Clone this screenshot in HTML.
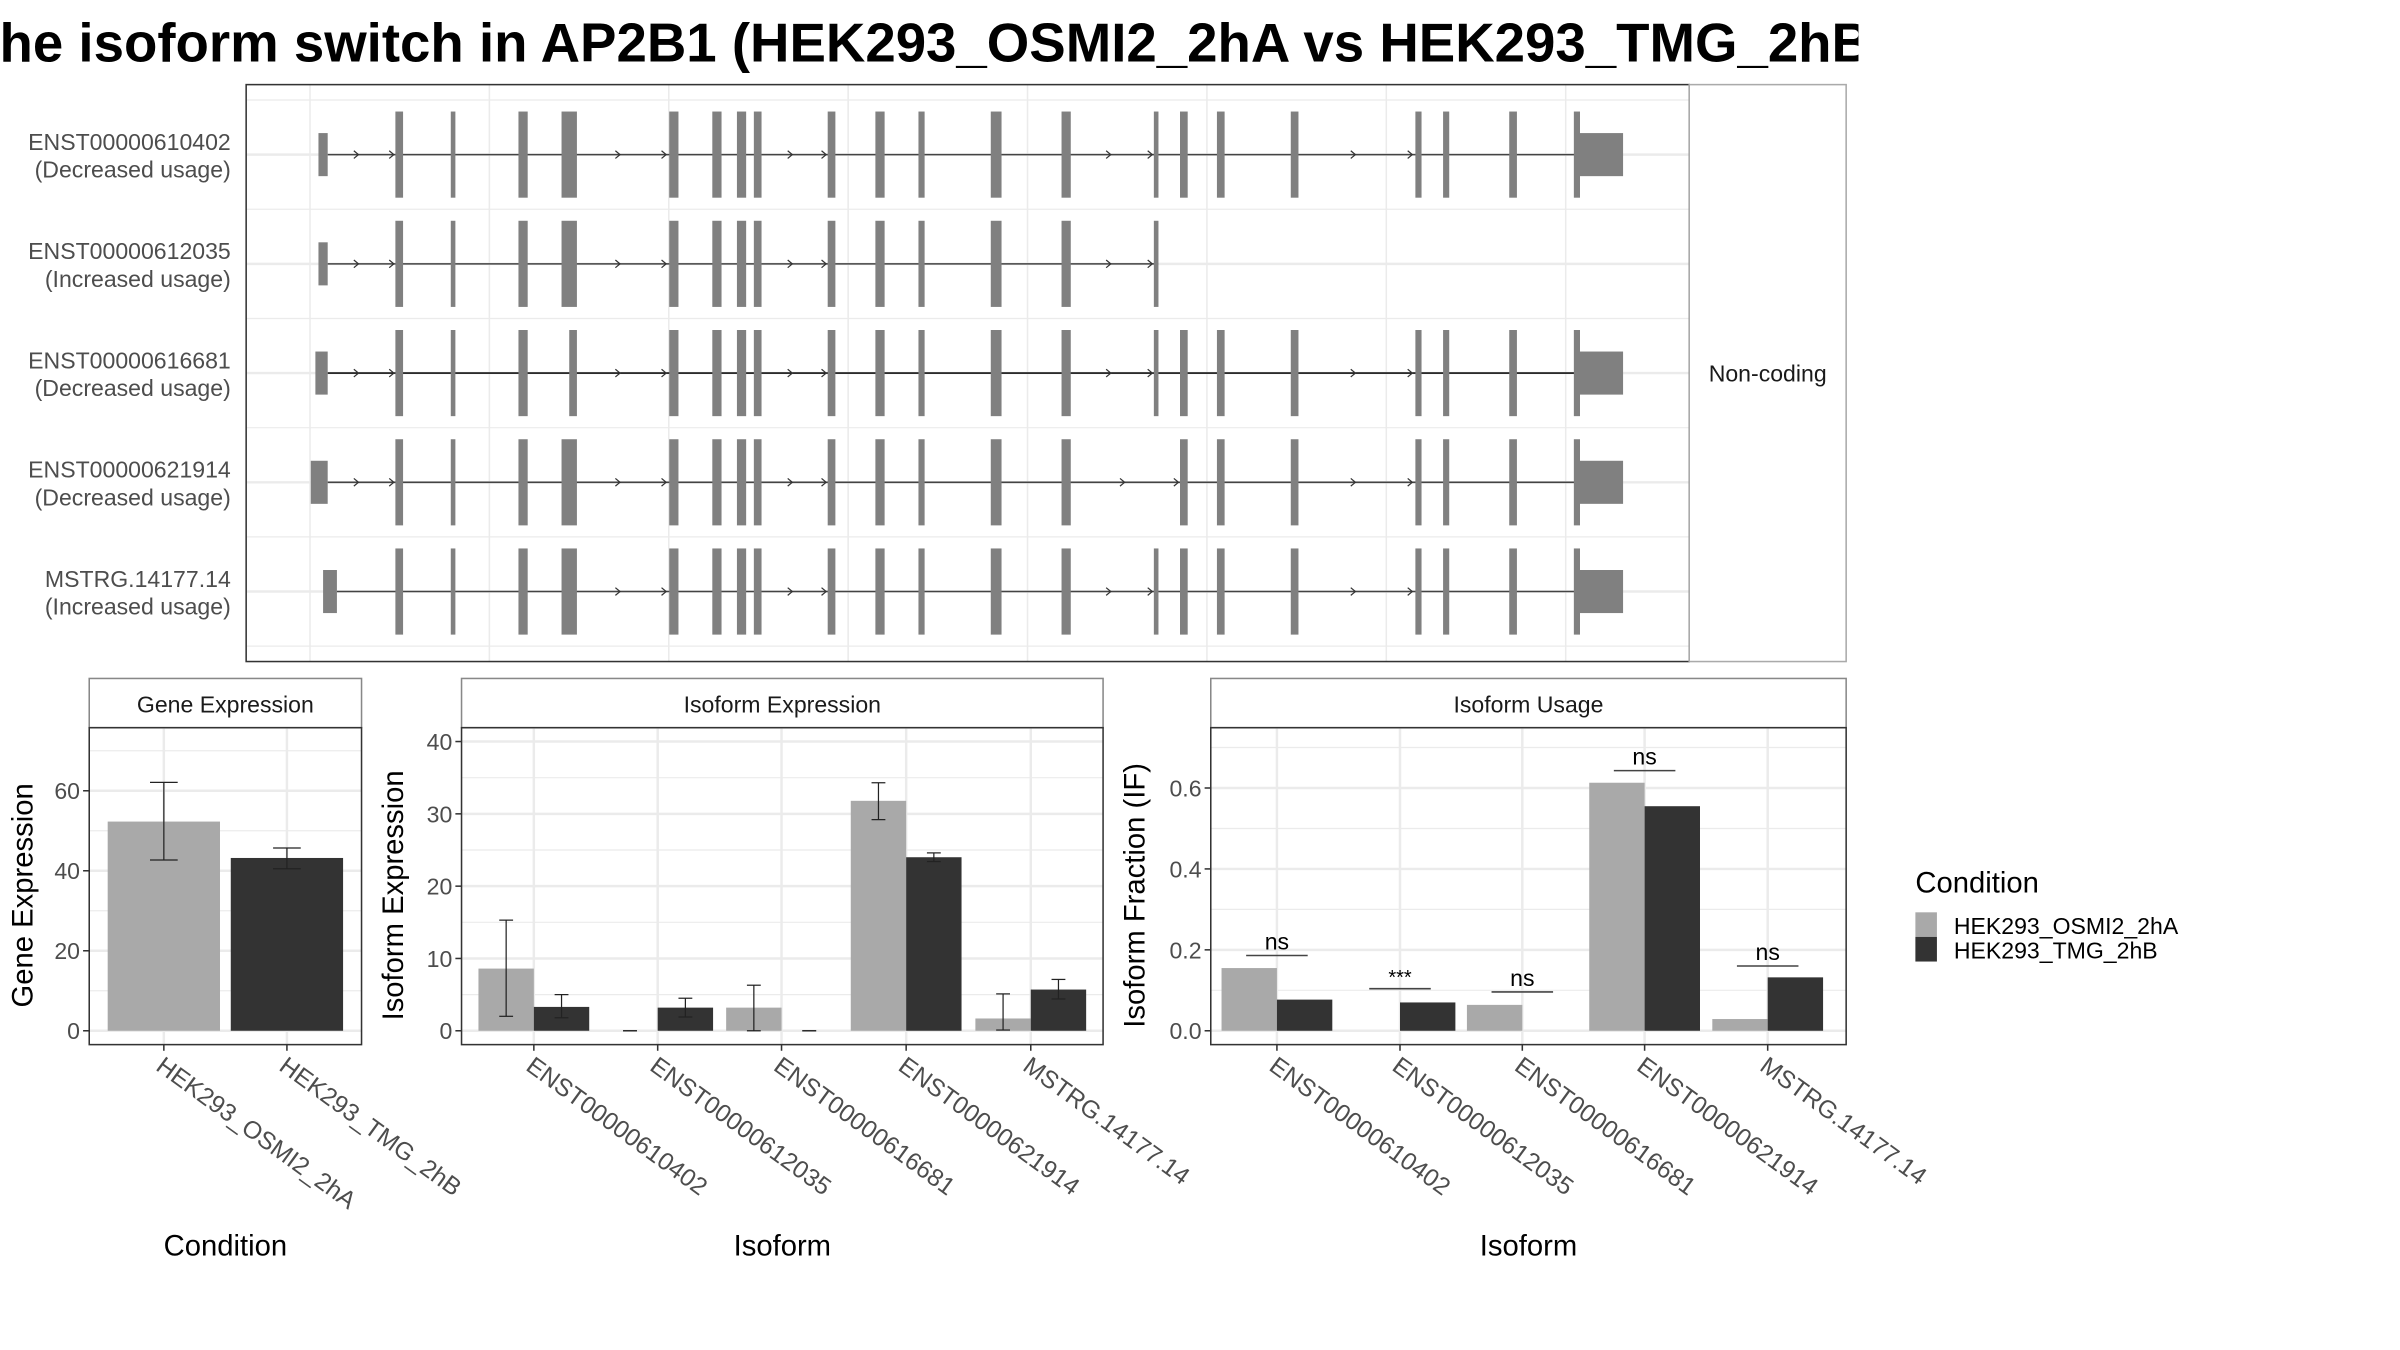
<!DOCTYPE html>
<html><head><meta charset="utf-8"><style>
html,body{margin:0;padding:0;background:#fff;}
svg{display:block;font-family:"Liberation Sans",Arial,sans-serif;}
</style></head><body>
<svg id="chart" width="2400" height="1350" viewBox="0 0 1560 877.5" xmlns="http://www.w3.org/2000/svg">
<defs><clipPath id="titleclip"><rect x="0" y="0" width="1208" height="60"/></clipPath></defs>
<rect x="0" y="0" width="1560" height="877.5" fill="#fff"/>
<text x="-22" y="40" font-size="35.5" font-weight="bold" fill="#000" clip-path="url(#titleclip)">The isoform switch in AP2B1 (HEK293_OSMI2_2hA vs HEK293_TMG_2hB)</text>
<g id="g"></g>
</svg>
<script>
// ---------- data ----------
const transcriptNames = ["ENST00000610402","ENST00000612035","ENST00000616681","ENST00000621914","MSTRG.14177.14"];
const transcriptUsage = ["(Decreased usage)","(Increased usage)","(Decreased usage)","(Decreased usage)","(Increased usage)"];
const cdsExons = [[257,262],[293,296],[337,343],[365,375],[435,441],[463,469],[479,485],[490,495],[538,543],[569,575],[597,601],[644,651],[690,696],[750,753],[767,772],[791,796],[839,844],[920,924],[938,942],[981,986],[1023,1027]];
const utr5 = [[207,213],[207,213],[205,213],[202,213],[210,219]];
const utr3 = [[1027,1055],null,[1027,1055],[1027,1055],[1027,1055]];
const lastExonIdx = [20,13,20,20,20];
const skipExon = [[],[],[],[13],[]];
const narrowExon3 = [370,375];
const arrowsR1 = [232,255,402,432,514,536,721,748,880,917];
const arrowsR2 = [232,255,402,432,514,536,721,748];
const arrowsR4 = [232,255,402,432,514,536,730,765,880,917];
const arrowsR5 = [402,432,514,536,721,748,880,917];
const conditions = ["HEK293_OSMI2_2hA","HEK293_TMG_2hB"];
const geneExpr = [52.3,43.2];
const geneLo = [42.7,40.5];
const geneHi = [62.1,45.7];
const isoforms = ["ENST00000610402","ENST00000612035","ENST00000616681","ENST00000621914","MSTRG.14177.14"];
const isoExprA = [8.6,0,3.2,31.8,1.7];
const isoExprB = [3.3,3.2,0,24.0,5.7];
const isoLoA = [2.0,0,0,29.2,0.1];
const isoHiA = [15.3,0,6.3,34.3,5.1];
const isoLoB = [1.8,1.9,0,23.4,4.4];
const isoHiB = [5.0,4.5,0,24.6,7.1];
const ifA = [0.155,0,0.064,0.613,0.029];
const ifB = [0.077,0.070,0,0.555,0.132];
const sigLabels = ["ns","***","ns","ns","ns"];
const sigHeights = [0.186,0.104,0.096,0.643,0.16];
const geneTicks = [0,20,40,60];
const isoTicks = [0,10,20,30,40];
const ifTicks = [0,0.2,0.4,0.6];
const ifTickLabels = ["0.0","0.2","0.4","0.6"];

const NS="http://www.w3.org/2000/svg";
const G=document.getElementById('g');
function mk(tag,attrs,parent,txt){const e=document.createElementNS(NS,tag);for(const k in attrs)e.setAttribute(k,attrs[k]);if(txt!==undefined)e.textContent=txt;(parent||G).appendChild(e);return e;}
const LIGHT="#a9a9a9",DARK="#333333",EXON="#808080",GRID="#ebebeb",TXT="#4d4d4d";

// ---------- transcript panel ----------
const tp={x0:160,x1:1098,y0:55,y1:430};
const gx=v=>v; // genomic -> px
const rowY=i=>100.5+i*71;
let e;
for(let k=0;k<8;k++){const x=201.5+k*116.6;
 e=mk('line',{x1:x,x2:x,y1:tp.y0,y2:tp.y1,stroke:GRID,'stroke-width':1});
 
 }
for(let k=0;k<6;k++){const y=65+k*71;
 e=mk('line',{x1:tp.x0,x2:tp.x1,y1:y,y2:y,stroke:GRID,'stroke-width':0.8});
 
 }
const arrowSets=[arrowsR1,arrowsR2,arrowsR1,arrowsR4,arrowsR5];
transcriptNames.forEach((nm,i)=>{
 const y=rowY(i);
 e=mk('line',{x1:tp.x0,x2:tp.x1,y1:y,y2:y,stroke:GRID,'stroke-width':1.6});
 
 
 const g=mk('g',{});
 
 
 const start=utr5[i][1], end=utr3[i]?utr3[i][0]:cdsExons[lastExonIdx[i]][1];
 e=mk('line',{x1:gx(start),x2:gx(end),y1:y,y2:y,stroke:i==2?'#111':'#444','stroke-width':1},g);
 
 
 arrowSets[i].forEach(a=>{
  e=mk('path',{d:`M${gx(a)-2},${y-2.5} L${gx(a)+1},${y} L${gx(a)-2},${y+2.5}`,fill:'none',stroke:'#333','stroke-width':0.8},g);
  
  });
 e=mk('rect',{x:gx(utr5[i][0]),y:y-14,width:gx(utr5[i][1])-gx(utr5[i][0]),height:28,fill:EXON},g);
 
 
 for(let j=0;j<=lastExonIdx[i];j++){
  if(skipExon[i].includes(j))continue;
  let ex=cdsExons[j]; if(i==2&&j==3)ex=narrowExon3;
  e=mk('rect',{x:gx(ex[0]),y:y-28,width:gx(ex[1])-gx(ex[0]),height:56,fill:EXON},g);
  
  }
 if(utr3[i]){
  e=mk('rect',{x:gx(utr3[i][0]),y:y-14,width:gx(utr3[i][1])-gx(utr3[i][0]),height:28,fill:EXON},g);
  
  }
 e=mk('text',{x:150,y:y-3,'text-anchor':'end','font-size':15,fill:TXT},null,nm);
 
 
 e=mk('text',{x:150,y:y+15,'text-anchor':'end','font-size':15,fill:TXT},null,transcriptUsage[i]);
 
 
});
e=mk('rect',{x:tp.x0,y:tp.y0,width:tp.x1-tp.x0,height:tp.y1-tp.y0,fill:'none',stroke:'#333','stroke-width':1});


e=mk('rect',{x:tp.x1,y:tp.y0,width:102,height:tp.y1-tp.y0,fill:'#fff',stroke:'#aaa','stroke-width':1});


e=mk('text',{x:1149,y:248,'text-anchor':'middle','font-size':15,fill:'#1a1a1a'},null,'Non-coding');



// ---------- bar panels ----------
const PY0=473,PY1=679,ZERO=670;
function panel(name,x0,x1,title,ticks,tickLabels,scale,yTitle,yTitleX,minor){
 const ys=v=>ZERO-v*scale;
 minor.forEach(v=>{e=mk('line',{x1:x0,x2:x1,y1:ys(v),y2:ys(v),stroke:GRID,'stroke-width':0.8});
  
  });
 ticks.forEach((v,k)=>{
  e=mk('line',{x1:x0,x2:x1,y1:ys(v),y2:ys(v),stroke:GRID,'stroke-width':1.6});
  
  
  e=mk('line',{x1:x0-4,x2:x0,y1:ys(v),y2:ys(v),stroke:'#333','stroke-width':1});
  
  
  e=mk('text',{x:x0-6,y:ys(v)+5.5,'text-anchor':'end','font-size':15,fill:TXT},null,tickLabels[k]);
  
  });
 e=mk('rect',{x:x0,y:441,width:x1-x0,height:32,fill:'#fff',stroke:'#888','stroke-width':1});
 
 
 e=mk('text',{x:(x0+x1)/2,y:463,'text-anchor':'middle','font-size':15,fill:'#1a1a1a'},null,title);
 
 
 e=mk('text',{x:yTitleX,y:(PY0+PY1)/2+6,'text-anchor':'middle','font-size':19,fill:'#000',transform:`rotate(-90 ${yTitleX} ${(PY0+PY1)/2+6})`},null,yTitle);
 
 
 return ys;
}
function border(name,x0,x1){e=mk('rect',{x:x0,y:PY0,width:x1-x0,height:PY1-PY0,fill:'none',stroke:'#333','stroke-width':1});
 
 }
function xlabels(name,centers,labels,x0,x1,title){
 centers.forEach((c,k)=>{
  e=mk('line',{x1:c,x2:c,y1:PY1,y2:PY1+4,stroke:'#333','stroke-width':1});
  
  
  e=mk('text',{x:c-6,y:PY1+16,'font-size':16,fill:TXT,transform:`rotate(36 ${c-6} ${PY1+16})`},null,labels[k]);
  
  });
 e=mk('text',{x:(x0+x1)/2,y:816,'text-anchor':'middle','font-size':19,fill:'#000'},null,title);
 
 }
function vgrid(name,centers){centers.forEach(c=>{e=mk('line',{x1:c,x2:c,y1:PY0,y2:PY1,stroke:GRID,'stroke-width':1.6});
 
 });}
function errbar(name,c,lo,hi,ys,w){
 const g=mk('g',{stroke:'#222','stroke-width':0.8});
 
 
 mk('line',{x1:c,x2:c,y1:ys(lo),y2:ys(hi)},g);
 mk('line',{x1:c-w,x2:c+w,y1:ys(lo),y2:ys(lo)},g);
 mk('line',{x1:c-w,x2:c+w,y1:ys(hi),y2:ys(hi)},g);}

// Gene expression
{const x0=58,x1=235;const centers=[106.5,186.5];
 const ys=panel('gene-expr',x0,x1,'Gene Expression',geneTicks,geneTicks.map(String),2.6,'Gene Expression',21,[10,30,50,70]);
 vgrid('gene-expr',centers);
 geneExpr.forEach((v,k)=>{
  e=mk('rect',{x:centers[k]-36.5,y:ys(v),width:73,height:ys(0)-ys(v),fill:k?DARK:LIGHT});
  
  
  errbar('gene-errorbar',centers[k],geneLo[k],geneHi[k],ys,9);});
 border('gene-expr',x0,x1);
 xlabels('gene-expr',centers,conditions,x0,x1,'Condition');}

// Isoform expression
{const x0=300,x1=717;const centers=[347,427.5,508,589,670];
 const ys=panel('iso-expr',x0,x1,'Isoform Expression',isoTicks,isoTicks.map(String),4.7,'Isoform Expression',262,[5,15,25,35]);
 vgrid('iso-expr',centers);
 isoforms.forEach((nm,k)=>{
  e=mk('rect',{x:centers[k]-36,y:ys(isoExprA[k]),width:36,height:ys(0)-ys(isoExprA[k]),fill:LIGHT});
  
  
  e=mk('rect',{x:centers[k],y:ys(isoExprB[k]),width:36,height:ys(0)-ys(isoExprB[k]),fill:DARK});
  
  
  errbar('iso-expr-errorbar-osmi',centers[k]-18,isoLoA[k],isoHiA[k],ys,4.5);
  errbar('iso-expr-errorbar-tmg',centers[k]+18,isoLoB[k],isoHiB[k],ys,4.5);});
 border('iso-expr',x0,x1);
 xlabels('iso-expr',centers,isoforms,x0,x1,'Isoform');}

// Isoform usage
{const x0=787,x1=1200;const centers=[830,910,989.5,1069,1149];
 const ys=panel('iso-usage',x0,x1,'Isoform Usage',ifTicks,ifTickLabels,263,'Isoform Fraction (IF)',744,[0.1,0.3,0.5,0.7]);
 vgrid('iso-usage',centers);
 isoforms.forEach((nm,k)=>{
  e=mk('rect',{x:centers[k]-36,y:ys(ifA[k]),width:36,height:ys(0)-ys(ifA[k]),fill:LIGHT});
  
  
  e=mk('rect',{x:centers[k],y:ys(ifB[k]),width:36,height:ys(0)-ys(ifB[k]),fill:DARK});
  
  
  e=mk('line',{x1:centers[k]-20,x2:centers[k]+20,y1:ys(sigHeights[k]),y2:ys(sigHeights[k]),stroke:'#444','stroke-width':1});
  
  
  e=mk('text',{x:centers[k],y:ys(sigHeights[k])-(sigLabels[k]=='***'?3:4),'text-anchor':'middle','font-size':sigLabels[k]=='***'?13:15,fill:'#000'},null,sigLabels[k]);
  
  });
 border('iso-usage',x0,x1);
 xlabels('iso-usage',centers,isoforms,x0,x1,'Isoform');}

// Legend
e=mk('text',{x:1245,y:580,'font-size':19,fill:'#000'},null,'Condition');


conditions.forEach((c,k)=>{
 const g=mk('g',{});
 
 
 e=mk('rect',{x:1245,y:593+k*16,width:14,height:16,fill:k?DARK:LIGHT},g);
 
 
 e=mk('text',{x:1270,y:607+k*16,'font-size':15,fill:'#000'},g,c);
 
 });
</script>
</body></html>
